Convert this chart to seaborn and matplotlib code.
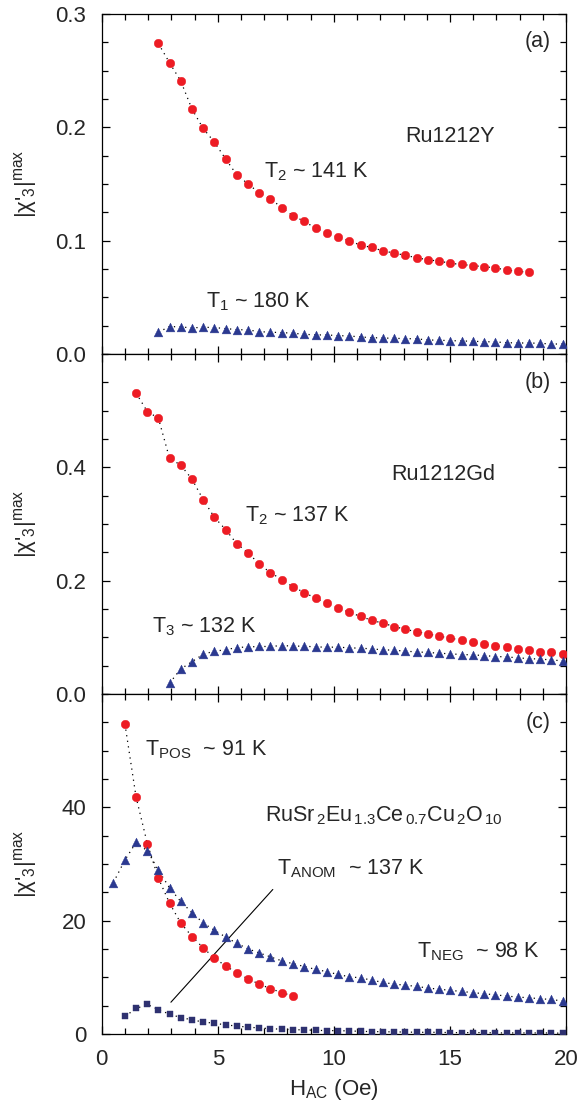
import matplotlib
matplotlib.use("Agg")
import matplotlib.pyplot as plt
from matplotlib.ticker import MultipleLocator, FormatStrFormatter
import seaborn as sns

# =========================
# Datos
# =========================
# campo AC (Oe)
h_ac = [0.50, 1.00, 1.48, 1.97, 2.44, 2.92, 3.40, 3.89, 4.37, 4.85,
        5.34, 5.82, 6.31, 6.79, 7.27, 7.76, 8.24, 8.73, 9.21, 9.69,
        10.18, 10.66, 11.15, 11.63, 12.11, 12.60, 13.08, 13.56, 14.05, 14.53,
        15.02, 15.50, 15.98, 16.47, 16.95, 17.44, 17.92, 18.40, 18.89, 19.37,
        19.85]

# (a) Ru1212Y
h_a_t2 = h_ac[4:38]
chi_a_t2 = [0.274, 0.257, 0.241, 0.216, 0.199, 0.187, 0.172, 0.158, 0.150, 0.142,
            0.137, 0.129, 0.122, 0.117, 0.111, 0.107, 0.103, 0.100, 0.096, 0.094,
            0.091, 0.089, 0.087, 0.085, 0.083, 0.082, 0.080, 0.079, 0.078, 0.077,
            0.076, 0.074, 0.073, 0.072]
h_a_t1 = h_ac[4:41]
chi_a_t1 = [0.0192, 0.0242, 0.0239, 0.0230, 0.0236, 0.0233, 0.0224, 0.0215, 0.0212, 0.0197,
            0.0192, 0.0189, 0.0183, 0.0174, 0.0168, 0.0168, 0.0162, 0.0159, 0.0150, 0.0144,
            0.0141, 0.0138, 0.0136, 0.0133, 0.0124, 0.0121, 0.0118, 0.0115, 0.0112, 0.0109,
            0.0106, 0.0100, 0.0097, 0.0097, 0.0094, 0.0088, 0.0088]

# (b) Ru1212Gd
h_b_t2 = h_ac[2:41]
chi_b_t2 = [0.531, 0.498, 0.487, 0.416, 0.404, 0.379, 0.343, 0.312, 0.290, 0.265,
            0.249, 0.229, 0.214, 0.202, 0.189, 0.179, 0.169, 0.160, 0.152, 0.144,
            0.137, 0.130, 0.125, 0.119, 0.114, 0.110, 0.106, 0.102, 0.0985, 0.0950,
            0.0909, 0.0879, 0.0850, 0.0826, 0.0796, 0.0773, 0.0743, 0.0732, 0.0714]
h_b_t3 = h_ac[5:41]
chi_b_t3 = [0.019, 0.044, 0.057, 0.070, 0.0755, 0.078, 0.082, 0.083, 0.0838, 0.0838,
            0.0855, 0.0844, 0.0844, 0.083, 0.0826, 0.0826, 0.0814, 0.0808, 0.0796, 0.0779,
            0.0773, 0.0755, 0.0743, 0.0732, 0.0720, 0.0708, 0.0696, 0.069, 0.0678, 0.0661,
            0.0655, 0.0637, 0.0625, 0.0614, 0.0602, 0.0584]

# (c) RuSr2Eu1.3Ce0.7Cu2O10
h_c_pos = h_ac[1:17]
chi_c_pos = [54.7, 41.8, 33.5, 27.5, 23.1, 19.6, 17.2, 15.2, 13.4, 12.0,
             10.8, 9.7, 8.8, 8.0, 7.3, 6.7]
h_c_neg = h_ac[0:41]
chi_c_neg = [26.7, 30.7, 33.8, 32.3, 28.9, 25.8, 23.4, 21.4, 19.6, 18.3,
             17.1, 16.0, 15.0, 14.3, 13.6, 12.9, 12.4, 11.9, 11.4, 11.0,
             10.5, 10.1, 9.9, 9.5, 9.1, 8.8, 8.6, 8.4, 8.1, 7.9,
             7.7, 7.5, 7.3, 7.1, 6.9, 6.7, 6.5, 6.4, 6.2, 6.1, 5.8]
h_c_anom = h_ac[1:41]
chi_c_anom = [3.1, 4.5, 5.2, 4.3, 3.5, 2.9, 2.5, 2.1, 1.9, 1.6,
              1.4, 1.2, 1.06, 0.94, 0.83, 0.77, 0.71, 0.65, 0.59, 0.59,
              0.53, 0.47, 0.41, 0.41, 0.35, 0.35, 0.29, 0.29, 0.29, 0.24,
              0.24, 0.24, 0.24, 0.18, 0.18, 0.18, 0.18, 0.18, 0.18, 0.12]

ROJO = "#ED1C24"
AZUL = "#2B3990"
MARINO = "#2E3170"

# =========================
# Estilo
# =========================
sns.set_theme(style="ticks")
plt.rcParams["font.family"] = ["Liberation Sans", "DejaVu Sans"]
plt.rcParams["mathtext.fontset"] = "custom"
plt.rcParams["mathtext.rm"] = "Liberation Sans"
plt.rcParams["mathtext.it"] = "Liberation Sans:italic"
plt.rcParams["axes.linewidth"] = 0.9
plt.rcParams["axes.edgecolor"] = "black"


def serie(ax, x, y, color, marker, size):
    # linea punteada negra + marcadores
    sns.lineplot(x=x, y=y, ax=ax, color="black", linestyle=(0, (1, 3.5)),
                 linewidth=0.9, sort=False, estimator=None, zorder=2)
    sns.scatterplot(x=x, y=y, ax=ax, color=color, marker=marker, s=size,
                    edgecolor=color, linewidth=0.3, zorder=3)


fig = plt.figure(figsize=(5.88, 11.10), dpi=100)
axes = fig.subplots(3, 1, sharex=True)
fig.subplots_adjust(left=0.173, right=0.9626, top=0.9874, bottom=0.0685, hspace=0)
ax_a, ax_b, ax_c = axes

serie(ax_a, h_a_t2, chi_a_t2, ROJO, "o", 38)
serie(ax_a, h_a_t1, chi_a_t1, AZUL, "^", 40)
serie(ax_b, h_b_t2, chi_b_t2, ROJO, "o", 38)
serie(ax_b, h_b_t3, chi_b_t3, AZUL, "^", 40)
serie(ax_c, h_c_pos, chi_c_pos, ROJO, "o", 38)
serie(ax_c, h_c_neg, chi_c_neg, AZUL, "^", 40)
serie(ax_c, h_c_anom, chi_c_anom, MARINO, "s", 25)

# limites y ticks
ax_a.set_ylim(0, 0.3)
ax_a.set_yticks([0.0, 0.1, 0.2, 0.3])
ax_a.yaxis.set_minor_locator(MultipleLocator(0.025))
ax_a.yaxis.set_major_formatter(FormatStrFormatter("%.1f"))

ax_b.set_ylim(0, 0.6)
ax_b.set_yticks([0.0, 0.2, 0.4])
ax_b.yaxis.set_minor_locator(MultipleLocator(0.05))
ax_b.yaxis.set_major_formatter(FormatStrFormatter("%.1f"))

ax_c.set_ylim(0, 60)
ax_c.set_yticks([0, 20, 40])
ax_c.yaxis.set_minor_locator(MultipleLocator(5))

ax_c.set_xlim(0, 20)
ax_c.set_xticks([0, 5, 10, 15, 20])
ax_c.xaxis.set_minor_locator(MultipleLocator(1))

for ax in axes:
    for s in ax.spines.values():
        s.set_visible(True)
        s.set_linewidth(0.9)
    ax.tick_params(which="both", direction="in", top=True, right=True,
                   color="black", width=0.9, labelsize=16, pad=11)
    ax.tick_params(which="major", length=5.5)
    ax.tick_params(which="minor", length=4.5)
    ax.set_xlabel("")
    ax.set_ylabel("|χ'$_3$|$^{\\mathrm{max}}$", fontsize=16)
    ax.yaxis.set_label_coords(-0.135, 0.5)

ax_c.set_xlabel("H$_{\\mathrm{AC}}$ (Oe)", fontsize=16, labelpad=5)

# textos
kw = dict(fontsize=15.5, va="center")
ax_a.text(18.8, 0.2756, "(a)", ha="center", **kw)
ax_a.text(15.0, 0.192, "Ru1212Y", ha="center", **kw)
ax_a.text(7.0, 0.1606, "T$_2$ ~ 141 K", ha="left", **kw)
ax_a.text(4.48, 0.0457, "T$_1$ ~ 180 K", ha="left", **kw)

ax_b.text(18.8, 0.550, "(b)", ha="center", **kw)
ax_b.text(14.7, 0.388, "Ru1212Gd", ha="center", **kw)
ax_b.text(6.16, 0.3145, "T$_2$ ~ 137 K", ha="left", **kw)
ax_b.text(2.18, 0.119, "T$_3$ ~ 132 K", ha="left", **kw)

ax_c.text(18.8, 55.0, "(c)", ha="center", **kw)
ax_c.text(1.85, 50.1, "T$_{\\mathrm{POS}}$  ~ 91 K", ha="left", **kw)
ax_c.text(7.05, 38.5, "RuSr$_{\\,2}$Eu$_{\\,1.3}$Ce$_{\\,0.7}$Cu$_{\\,2}$O$_{\\,10}$",
          ha="left", **kw)
ax_c.text(7.55, 29.1, "T$_{\\mathrm{ANOM}}$  ~ 137 K", ha="left", **kw)
ax_c.text(13.6, 14.5, "T$_{\\mathrm{NEG}}$  ~ 98 K", ha="left", **kw)
ax_c.plot([2.98, 7.37], [5.6, 25.5], color="black", linewidth=0.8)

fig.savefig("out.png", dpi=100)
